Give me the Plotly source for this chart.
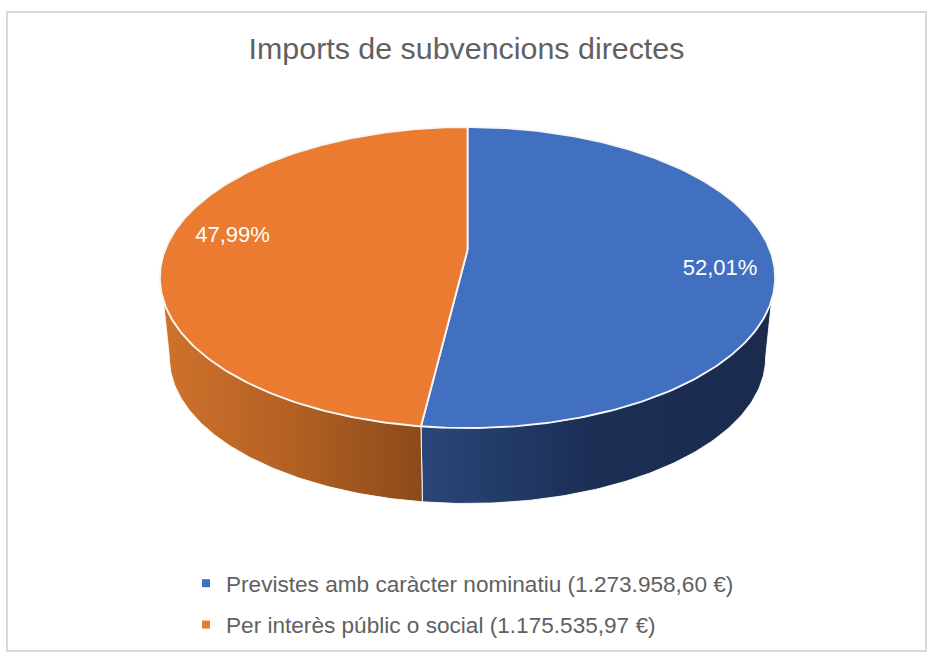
import numpy as np
import plotly.graph_objects as go

# Data
categories = ["Previstes amb caràcter nominatiu", "Per interès públic o social"]
amounts = [1273958.60, 1175535.97]
title_text = "Imports de subvencions directes"

# Style
top_colors = ["#4270C1", "#EA7B30"]
wall_scales = [
    [[0, "#2A4679"], [0.5, "#1B2E54"], [1, "#1A2B4E"]],
    [[0, "#CF722B"], [0.5, "#B26023"], [1, "#8C4A1B"]],
]
label_xy = [(720, 269.5), (232.5, 236.5)]
FONT = "Liberation Sans"
GREY = "#616161"

# Pie projection: unit disc seen in perspective, in page pixels
CX, CY = 467.5, 250
K, A, B = 0.1827, 145.5, 302.5
BASE_S, BASE_CY = 0.969, 331


def project(theta, cy=CY, s=1.0):
    u, v = np.sin(theta), -np.cos(theta)
    d = 1 - K * v
    return CX + s * B * u / d, cy + s * A * v / d


shares = np.array(amounts) / sum(amounts)
edges = np.concatenate([[0], np.cumsum(shares)]) * 2 * np.pi

fig = go.Figure()

# Side walls (front part of the rim only)
top_limits = [np.radians(109), np.radians(251)]
base_limits = [np.radians(100.4), np.radians(259.6)]
front = edges[1]
for i in range(2):
    t_top = np.linspace(top_limits[i], front, 120)
    t_base = np.linspace(front, base_limits[i], 120)
    xt, yt = project(t_top)
    xb, yb = project(t_base, BASE_CY, BASE_S)
    x = np.concatenate([xt, xb, xt[:1]])
    y = np.concatenate([yt, yb, yt[:1]])
    fig.add_trace(go.Scatter(
        x=x, y=y, mode="lines", fill="toself",
        line=dict(color="rgba(255,255,255,0.9)", width=1),
        fillgradient=dict(type="horizontal", colorscale=wall_scales[i],
                          start=float(min(x)), stop=float(max(x))),
        hoverinfo="skip", showlegend=False))

# Top slices
for i in range(2):
    t = np.linspace(edges[i], edges[i + 1], 240)
    xr, yr = project(t)
    x = np.concatenate([[CX], xr, [CX]])
    y = np.concatenate([[CY], yr, [CY]])
    fig.add_trace(go.Scatter(
        x=x, y=y, mode="lines", fill="toself", fillcolor=top_colors[i],
        line=dict(color="#F6F6F6", width=1.9),
        name=categories[i], hoverinfo="name", showlegend=False))

# Percent labels
for i in range(2):
    txt = f"{shares[i] * 100:.2f}%".replace(".", ",")
    fig.add_trace(go.Scatter(
        x=[label_xy[i][0]], y=[label_xy[i][1]], mode="text", text=[txt],
        textposition="middle center",
        textfont=dict(family=FONT, size=22, color="#FFFFFF"),
        hoverinfo="skip", showlegend=False))


def money(v):
    s = f"{v:,.2f}"
    return s.replace(",", "#").replace(".", ",").replace("#", ".") + " €"


# Legend entries
for i in range(2):
    fig.add_trace(go.Scatter(
        x=[None], y=[None], mode="markers",
        marker=dict(symbol="square", size=8, color=top_colors[i]),
        name=f"{categories[i]} ({money(amounts[i])})", legendgroup=f"g{i}"))

fig.update_layout(
    width=929, height=653, autosize=False,
    margin=dict(l=0, r=0, t=0, b=0),
    paper_bgcolor="white", plot_bgcolor="white",
    title=dict(text=title_text, x=466.5 / 929, xanchor="center", xref="paper",
               y=1 - 48 / 653, yanchor="middle", yref="paper",
               font=dict(family=FONT, size=30.4, color=GREY)),
    xaxis=dict(range=[0, 929], visible=False, fixedrange=True),
    yaxis=dict(range=[653, 0], visible=False, fixedrange=True),
    legend=dict(x=186 / 929, y=1 - 562 / 653, xanchor="left", yanchor="top",
                font=dict(family=FONT, size=22.6, color=GREY),
                bgcolor="rgba(0,0,0,0)", tracegroupgap=9, traceorder="grouped"),
    shapes=[dict(type="rect", xref="x", yref="y", x0=7, y0=12, x1=926, y1=651,
                 line=dict(color="#D9D9D9", width=2), fillcolor="rgba(0,0,0,0)", layer="below")],
    showlegend=True,
)

fig.write_html("out.html", config={"displayModeBar": False},
               post_script="document.body.style.margin='0';document.body.style.overflow='hidden';")
